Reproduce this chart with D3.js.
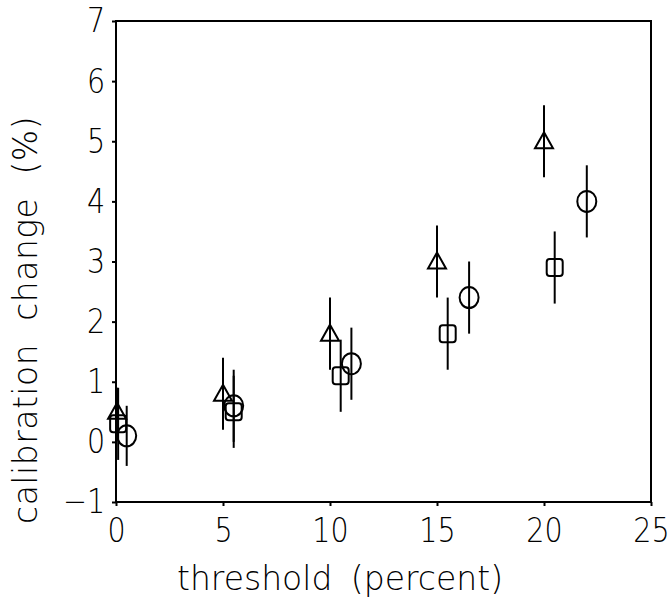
<!DOCTYPE html>
<html>
<head>
<meta charset="utf-8">
<script src="https://cdn.jsdelivr.net/npm/d3@7"></script>
<style>
  body { margin: 0; background: #fff; }
  svg text { font-family: "DejaVu Sans", sans-serif; font-weight: 200; fill: #000; }
  .axis path, .axis line { stroke: #000; stroke-width: 2; }
  .frame { fill: none; stroke: #000; stroke-width: 2; }
  .err { stroke: #000; stroke-width: 2; }
  .sym { fill: none; stroke: #000; stroke-width: 2; }
</style>
</head>
<body>
<div id="chart"></div>
<script>
// thresholds and calibration change (%) with error half-widths
const triX = [0.05, 5, 10, 15, 20];
const triY = [0.5, 0.8, 1.8, 3.0, 5.0];
const triErr = [0.4, 0.6, 0.6, 0.6, 0.6];

const sqX = [0.1, 5.5, 10.5, 15.5, 20.5];
const sqY = [0.3, 0.5, 1.1, 1.8, 2.9];
const sqErr = [0.6, 0.6, 0.6, 0.6, 0.6];

const circX = [0.5, 5.5, 11, 16.5, 22];
const circY = [0.1, 0.6, 1.3, 2.4, 4.0];
const circErr = [0.5, 0.6, 0.6, 0.6, 0.6];

const xTicks = [0, 5, 10, 15, 20, 25];
const yTicks = [-1, 0, 1, 2, 3, 4, 5, 6, 7];

const W = 671, H = 598;
const m = { left: 116, right: 20, top: 21, bottom: 96 };

const svg = d3.select('#chart').append('svg')
    .attr('width', W)
    .attr('height', H);

const x = d3.scaleLinear().domain([0, 25]).range([m.left, W - m.right]);
const y = d3.scaleLinear().domain([-1, 7]).range([H - m.bottom, m.top]);

// frame
svg.append('rect')
    .attr('class', 'frame')
    .attr('x', x(0)).attr('y', y(7))
    .attr('width', x(25) - x(0))
    .attr('height', y(-1) - y(7));

const fmt = d => d < 0 ? '\u2212' + Math.abs(d) : String(d);

// bottom axis: tick labels squeezed horizontally like the plotter font
svg.append('g')
    .attr('class', 'axis')
    .attr('transform', `translate(0,${y(-1)})`)
    .call(d3.axisBottom(x).tickValues(xTicks).tickFormat(fmt).tickSize(4).tickPadding(12))
    .call(g => g.select('.domain').remove())
    .selectAll('text')
    .style('font-size', '34px')
    .attr('transform', 'scale(0.84,1)');

// left axis: text x is -13, after scaling it lands at about -11
svg.append('g')
    .attr('class', 'axis')
    .attr('transform', `translate(${x(0)},0)`)
    .call(d3.axisLeft(y).tickValues(yTicks).tickFormat(fmt).tickSize(4).tickPadding(9))
    .call(g => g.select('.domain').remove())
    .selectAll('text')
    .style('font-size', '34px')
    .attr('transform', 'scale(0.84,1)');

// axis titles
svg.append('text')
    .attr('x', 340)
    .attr('y', 590)
    .attr('text-anchor', 'middle')
    .style('font-size', '33px')
    .style('word-spacing', '8px')
    .text('threshold (percent)');

svg.append('text')
    .attr('transform', 'translate(37,320) rotate(-90)')
    .attr('text-anchor', 'middle')
    .style('font-size', '33px')
    .style('letter-spacing', '0.5px')
    .style('word-spacing', '12px')
    .text('calibration change (%)');

function series(xs, ys, es, drawSym) {
    const pts = xs.map((d, i) => ({ x: d, y: ys[i], e: es[i] }));
    const g = svg.append('g');
    g.selectAll('line.err').data(pts).join('line')
        .attr('class', 'err')
        .attr('x1', d => x(d.x)).attr('x2', d => x(d.x))
        .attr('y1', d => y(d.y + d.e)).attr('y2', d => y(d.y - d.e));
    drawSym(g, pts);
}

series(triX, triY, triErr, (g, pts) => {
    g.selectAll('path.sym').data(pts).join('path')
        .attr('class', 'sym')
        .attr('d', d => {
            const cx = x(d.x), cy = y(d.y);
            return `M${cx},${cy - 9}L${cx + 9},${cy + 7}L${cx - 9},${cy + 7}Z`;
        });
});

series(sqX, sqY, sqErr, (g, pts) => {
    g.selectAll('rect.sym').data(pts).join('rect')
        .attr('class', 'sym')
        .attr('x', d => x(d.x) - 8).attr('y', d => y(d.y) - 8.5)
        .attr('width', 16).attr('height', 17)
        .attr('rx', 3);
});

series(circX, circY, circErr, (g, pts) => {
    g.selectAll('ellipse.sym').data(pts).join('ellipse')
        .attr('class', 'sym')
        .attr('cx', d => x(d.x)).attr('cy', d => y(d.y))
        .attr('rx', 9.5).attr('ry', 10.5);
});
</script>
</body>
</html>
